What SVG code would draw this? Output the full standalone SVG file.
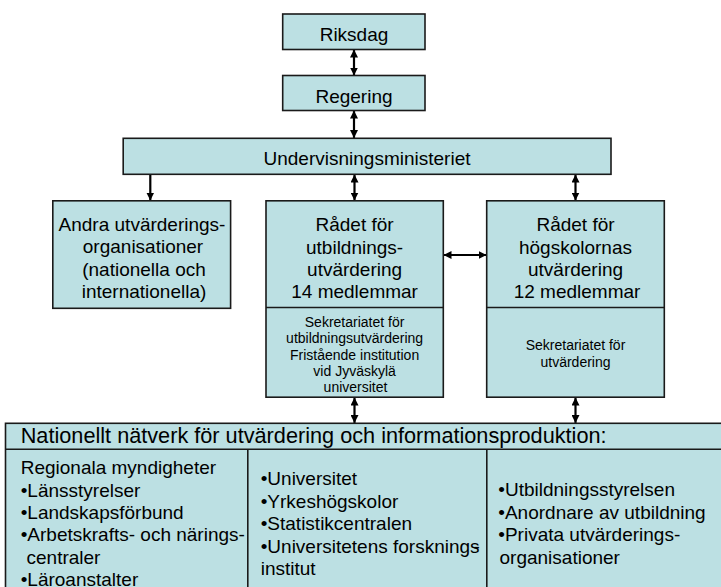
<svg xmlns="http://www.w3.org/2000/svg" width="721" height="587" viewBox="0 0 721 587">
  <style>
    .box { fill: #BCE0E3; stroke: #1a1a1a; stroke-width: 1.6; }
    .div { stroke: #1a1a1a; stroke-width: 1.6; fill: none; }
    .t { font-family: "Liberation Sans", Arial, sans-serif; font-size: 19px; fill: #000; }
    .c { text-anchor: middle; }
    .s { font-size: 14px; }
    .h { font-size: 21.7px; }
    .conn { stroke: #000; stroke-width: 2.2; fill: none; }
  </style>
  <defs>
    <marker id="head" viewBox="0 0 10 10" refX="10" refY="5" markerWidth="8" markerHeight="8" markerUnits="userSpaceOnUse" orient="auto-start-reverse">
      <path d="M0,0 L10,5 L0,10 z" fill="#000"/>
    </marker>
  </defs>

  <rect width="721" height="587" fill="#fff"/>

  <!-- connectors -->
  <g id="connectors">
    <line class="conn" x1="354" y1="49.5" x2="354" y2="75.5" marker-start="url(#head)" marker-end="url(#head)"/>
    <line class="conn" x1="354" y1="110.5" x2="354" y2="138" marker-start="url(#head)" marker-end="url(#head)"/>
    <line class="conn" x1="150.3" y1="174.5" x2="150.3" y2="200.5" marker-end="url(#head)"/>
    <line class="conn" x1="354.5" y1="174.5" x2="354.5" y2="200.5" marker-start="url(#head)" marker-end="url(#head)"/>
    <line class="conn" x1="575.5" y1="174.5" x2="575.5" y2="200.5" marker-start="url(#head)" marker-end="url(#head)"/>
    <line class="conn" x1="443.5" y1="255" x2="486.5" y2="255" marker-start="url(#head)" marker-end="url(#head)"/>
    <line class="conn" x1="354.5" y1="397.5" x2="354.5" y2="423" marker-start="url(#head)" marker-end="url(#head)"/>
    <line class="conn" x1="575.5" y1="397.5" x2="575.5" y2="423" marker-start="url(#head)" marker-end="url(#head)"/>
  </g>

  <g id="riksdag">
    <rect class="box" x="282.7" y="14" width="142.3" height="35.5"/>
    <text class="t c" x="354" y="41">Riksdag</text>
  </g>

  <g id="regering">
    <rect class="box" x="282.7" y="75.5" width="142.3" height="35"/>
    <text class="t c" x="354" y="103">Regering</text>
  </g>

  <g id="undervisningsministeriet">
    <rect class="box" x="123.2" y="138.3" width="487.8" height="36"/>
    <text class="t c" x="367" y="165">Undervisningsministeriet</text>
  </g>

  <g id="andra">
    <rect class="box" x="52.8" y="200.8" width="177.8" height="107.5"/>
    <text class="t c" x="142" y="230.5">Andra utvärderings-</text>
    <text class="t c" x="143" y="253">organisationer</text>
    <text class="t c" x="144" y="275.5">(nationella och</text>
    <text class="t c" x="144" y="298">internationella)</text>
  </g>

  <g id="radet-utbildning">
    <rect class="box" x="266" y="200.8" width="177.3" height="196.4"/>
    <line class="div" x1="266" y1="307.5" x2="443.3" y2="307.5"/>
    <text class="t c" x="354.6" y="231">Rådet för</text>
    <text class="t c" x="354.6" y="253.5">utbildnings-</text>
    <text class="t c" x="354.6" y="276">utvärdering</text>
    <text class="t c" x="354.6" y="298">14 medlemmar</text>
    <text class="t c s" x="354.6" y="326.5">Sekretariatet för</text>
    <text class="t c s" x="354.6" y="343">utbildningsutvärdering</text>
    <text class="t c s" x="354.6" y="359.5">Fristående institution</text>
    <text class="t c s" x="354.6" y="376">vid Jyväskylä</text>
    <text class="t c s" x="355.5" y="392">universitet</text>
  </g>

  <g id="radet-hogskolor">
    <rect class="box" x="486.7" y="200.8" width="177.6" height="196.4"/>
    <line class="div" x1="486.7" y1="307.5" x2="664.3" y2="307.5"/>
    <text class="t c" x="575.5" y="231">Rådet för</text>
    <text class="t c" x="575.5" y="253.5">högskolornas</text>
    <text class="t c" x="575.5" y="276">utvärdering</text>
    <text class="t c" x="577" y="298">12 medlemmar</text>
    <text class="t c s" x="575.5" y="350">Sekretariatet för</text>
    <text class="t c s" x="575.5" y="367">utvärdering</text>
  </g>

  <g id="natverk">
    <rect class="box" x="5.5" y="423.3" width="730" height="180"/>
    <line class="div" x1="5.5" y1="449.3" x2="721" y2="449.3"/>
    <line class="div" x1="247.8" y1="449.3" x2="247.8" y2="590"/>
    <line class="div" x1="486.8" y1="449.3" x2="486.8" y2="590"/>
    <text class="t h" x="20.7" y="443">Nationellt nätverk för utvärdering och informationsproduktion:</text>

    <text class="t" x="20.7" y="474">Regionala myndigheter</text>
    <text class="t" x="20.7" y="496.5">•Länsstyrelser</text>
    <text class="t" x="20.7" y="519">•Landskapsförbund</text>
    <text class="t" x="20.7" y="541">•Arbetskrafts- och närings-</text>
    <text class="t" x="20.7" y="563.5"> <tspan x="26.5">centraler</tspan></text>
    <text class="t" x="20.7" y="586">•Läroanstalter</text>

    <text class="t" x="260.7" y="485">•Universitet</text>
    <text class="t" x="260.7" y="507.5">•Yrkeshögskolor</text>
    <text class="t" x="260.7" y="530">•Statistikcentralen</text>
    <text class="t" x="260.7" y="552.5">•Universitetens forsknings<tspan dx="-6">-</tspan></text>
    <text class="t" x="260.7" y="575">institut</text>

    <text class="t" x="498.3" y="496">•Utbildningsstyrelsen</text>
    <text class="t" x="498.3" y="518.5">•Anordnare av utbildning</text>
    <text class="t" x="498.3" y="541">•Privata utvärderings-</text>
    <text class="t" x="499.5" y="563.5">organisationer</text>
  </g>
</svg>
